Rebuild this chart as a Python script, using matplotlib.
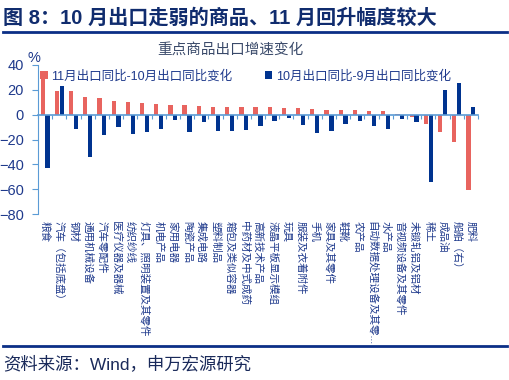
import matplotlib.pyplot as plt
import numpy as np
from matplotlib.lines import Line2D

plt.rcParams['font.family'] = ['Liberation Sans', 'Noto Sans CJK SC', 'DejaVu Sans']

# 重点商品出口增速变化 (%)
goods = ['粮食', '汽车（包括底盘）', '钢材', '通用机械设备', '汽车零配件', '医疗仪器及器械',
         '纺织纱线', '灯具、照明装置及其零件', '机电产品', '家用电器', '陶瓷产品', '集成电路',
         '塑料制品', '箱包及类似容器', '中药材及中式成药', '高新技术产品', '液晶平板显示模组',
         '玩具', '服装及衣着附件', '手机', '家具及其零件', '鞋靴', '农产品',
         '自动数据处理设备及其零...', '水产品', '音视频设备及其零件', '未锻轧铝及铝材',
         '稀土', '成品油', '船舶（右）', '肥料']
chg_nov_oct = [32, 19.2, 18.7, 13.9, 13.3, 10.9, 10.1, 9.6, 8.5, 8.0, 7.7, 7.2, 6.4, 6.4, 6.1,
               6.1, 5.9, 5.6, 5.3, 4.3, 4.0, 3.7, 3.5, 2.9, 2.9, 0.3, -1.9, -7.5, -13.9, -21.9, -60.8]
chg_oct_sep = [-42.7, 23.2, -11.5, -33.9, -16.5, -9.6, -15.2, -14.1, -11.2, -4.0, -13.9, -5.6,
               -13.3, -13.1, -12.0, -9.3, -4.8, -2.7, -8.0, -14.7, -12.8, -7.5, -5.3, -9.3,
               -11.2, -3.2, -5.9, -53.9, 19.7, 25.6, 5.9]

red = '#E8645F'
blue = '#00338F'
navy = '#0B2F86'
axis_blue = '#5B9BD5'
text_blue = '#1F3A8C'

fig = plt.figure(figsize=(5.1, 3.8), dpi=100)
ax = fig.add_axes([38/510, 1 - 214/380, 440/510, 149/380])

x = np.arange(len(goods))
w = 0.3
b1 = ax.bar(x - 0.17, chg_nov_oct, w, color=red, label='11月出口同比-10月出口同比变化')
b2 = ax.bar(x + 0.17, chg_oct_sep, w, color=blue, label='10月出口同比-9月出口同比变化')

ax.set_xlim(-0.5, len(goods) - 0.5)
ax.set_ylim(-80, 40)
ax.set_yticks(range(-80, 41, 20))
ax.tick_params(axis='y', colors=axis_blue, labelcolor=text_blue, labelsize=10.5,
               length=4, direction='out', pad=6)

for s in ['top', 'right']:
    ax.spines[s].set_visible(False)
ax.spines['left'].set_color(axis_blue)
ax.spines['bottom'].set_position(('data', 0))
ax.spines['bottom'].set_color(axis_blue)
ax.spines['bottom'].set_linewidth(1.2)
ax.set_xticks(np.arange(len(goods) + 1) - 0.5)
ax.set_xticklabels([])
ax.tick_params(axis='x', colors=axis_blue, length=3, direction='out')

for i, g in enumerate(goods):
    ax.text(i, -0.05, g, transform=ax.get_xaxis_transform(), rotation=-90,
            ha='center', va='top', fontsize=7.6, color=text_blue)

ax.text(-0.01, 1.0, '%', transform=ax.transAxes, ha='center', va='bottom',
        fontsize=10.5, color=text_blue)

fig.legend(handles=[b1, b2], loc='upper left', bbox_to_anchor=(35/510, 1 - 65/380),
           ncol=2, frameon=False, fontsize=9, handlelength=0.6, handleheight=0.6,
           handletextpad=0.3, columnspacing=2.6, labelcolor=text_blue, borderaxespad=0)

fig.text(0.006, 1 - 18/380, '图 8：10 月出口走弱的商品、11 月回升幅度较大', fontsize=14.5,
         fontweight='bold', color='#102C6E', va='center', ha='left')
fig.add_artist(Line2D([0.006, 0.994], [1 - 32/380] * 2, transform=fig.transFigure,
                      color=navy, lw=2))
fig.text(230/510, 1 - 50/380, '重点商品出口增速变化', fontsize=10.5, color='#3A4A6A',
         ha='center', va='center')
fig.add_artist(Line2D([0.006, 0.994], [1 - 346/380] * 2, transform=fig.transFigure,
                      color=navy, lw=2))
fig.text(0.006, 1 - 364/380, '资料来源：Wind，申万宏源研究', fontsize=12.5,
         color='#1A2A5A', va='center', ha='left')

fig.savefig('out.png', dpi=100)
